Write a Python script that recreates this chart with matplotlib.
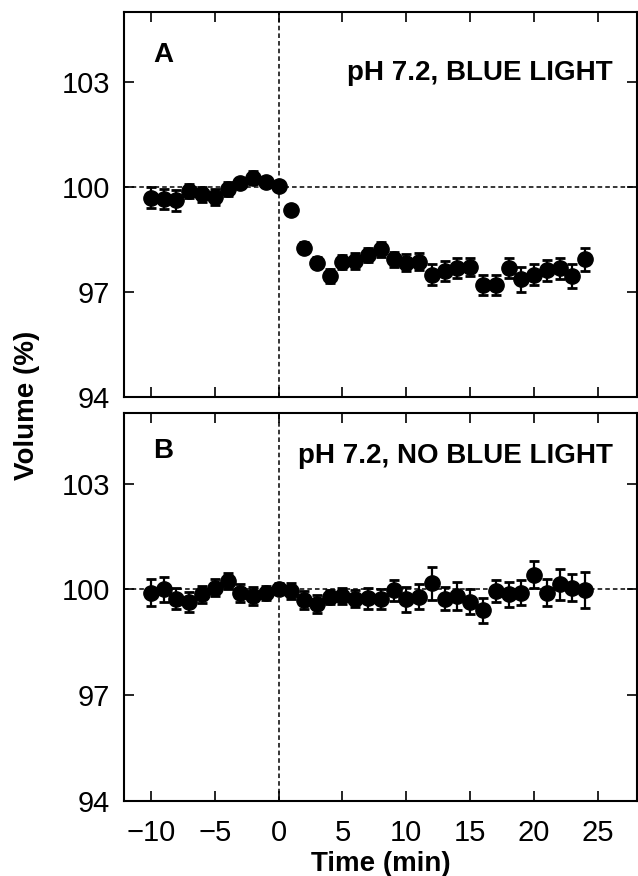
#!/usr/bin/env python3
"""Cell volume time course, with and without blue light (two panels)."""

import matplotlib
matplotlib.use('Agg')
import matplotlib.pyplot as plt

# time points (min), light switched on at t = 0
time_min = list(range(-10, 25))

# panel A: pH 7.2, blue light
vol_a = [99.69, 99.65, 99.62, 99.89, 99.79, 99.72, 99.93, 100.12, 100.27, 100.14,
         100.03, 99.35, 98.27, 97.84, 97.46, 97.86, 97.89, 98.07, 98.22, 97.93,
         97.84, 97.87, 97.50, 97.60, 97.68, 97.71, 97.20, 97.20, 97.68, 97.36,
         97.50, 97.62, 97.68, 97.46, 97.93]
err_a = [0.30, 0.28, 0.30, 0.20, 0.22, 0.22, 0.20, 0.15, 0.18, 0.15,
         0.12, 0.12, 0.15, 0.15, 0.20, 0.20, 0.22, 0.20, 0.22, 0.22,
         0.25, 0.25, 0.30, 0.28, 0.28, 0.25, 0.28, 0.28, 0.28, 0.35,
         0.30, 0.30, 0.30, 0.35, 0.32]

# panel B: pH 7.2, no blue light
vol_b = [99.91, 100.00, 99.74, 99.64, 99.86, 100.05, 100.24, 99.89, 99.81, 99.91,
         100.02, 99.95, 99.70, 99.58, 99.79, 99.81, 99.74, 99.75, 99.72, 99.98,
         99.72, 99.79, 100.17, 99.74, 99.81, 99.65, 99.41, 99.95, 99.86, 99.91,
         100.42, 99.91, 100.14, 100.05, 99.98]
err_b = [0.39, 0.35, 0.30, 0.28, 0.25, 0.25, 0.22, 0.25, 0.25, 0.20,
         0.15, 0.22, 0.25, 0.25, 0.20, 0.22, 0.25, 0.30, 0.28, 0.30,
         0.35, 0.35, 0.46, 0.32, 0.40, 0.35, 0.35, 0.32, 0.35, 0.35,
         0.38, 0.38, 0.45, 0.38, 0.52]

panel_letters = ['A', 'B']
conditions = ['pH 7.2, BLUE LIGHT', 'pH 7.2, NO BLUE LIGHT']
x_ticks = [-10, -5, 0, 5, 10, 15, 20, 25]
y_ticks = [94, 97, 100, 103]

plt.rcParams['font.family'] = ['Liberation Sans', 'DejaVu Sans']

fig = plt.figure(figsize=(6.38, 8.76), dpi=100)
ax_a = fig.add_axes([0.1944, 0.5468, 0.8040, 0.4395])
ax_b = fig.add_axes([0.1944, 0.0856, 0.8040, 0.4429])

panels = [(ax_a, vol_a, err_a), (ax_b, vol_b, err_b)]
letter_pos = [(0.0565, 0.870), (0.0565, 0.884)]
cond_pos = [(0.953, 0.823), (0.953, 0.871)]

for i, (ax, vol, err) in enumerate(panels):
    ax.axhline(100, color='black', lw=1.1, ls=(0, (3, 2)), zorder=1)
    ax.axvline(0, color='black', lw=1.1, ls=(0, (3, 2)), zorder=1)
    ax.errorbar(time_min, vol, yerr=err, fmt='o', color='black', ms=11,
                elinewidth=1.6, capsize=3.5, capthick=2, zorder=3)

    ax.set_xlim(-12.1, 28.05)
    ax.set_ylim(94, 105)
    ax.set_xticks(x_ticks)
    ax.set_yticks(y_ticks)
    ax.tick_params(direction='in', top=True, right=True, length=7, width=1.2,
                   labelsize=21, pad=10)
    ax.tick_params(axis='x', pad=13)
    if i == 0:
        ax.tick_params(axis='x', labelbottom=False)
    else:
        ax.set_xticklabels([str(t).replace('-', '\u2212') for t in x_ticks])
        ax.set_xlabel('Time (min)', fontsize=20, fontweight='bold', labelpad=3)
    for sp in ax.spines.values():
        sp.set_linewidth(1.5)

    ax.text(*letter_pos[i], panel_letters[i], transform=ax.transAxes,
            fontsize=20, fontweight='bold', ha='left', va='baseline')
    ax.text(*cond_pos[i], conditions[i], transform=ax.transAxes,
            fontsize=20, fontweight='bold', ha='right', va='baseline')

fig.text(0.042, 0.5377, 'Volume (%)', rotation=90, fontsize=20,
         fontweight='bold', ha='center', va='center')

fig.savefig('out.png', dpi=100)
plt.close(fig)
